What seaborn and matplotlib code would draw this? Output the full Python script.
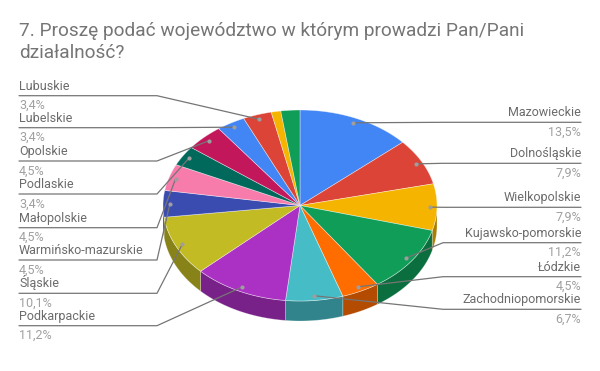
import numpy as np
import matplotlib
matplotlib.use("Agg")
import matplotlib.pyplot as plt
import seaborn as sns

# ============== DATA ==============
regions = ["Mazowieckie", "Dolnośląskie", "Wielkopolskie", "Kujawsko-pomorskie",
           "Łódzkie", "Zachodniopomorskie", "Podkarpackie", "Śląskie",
           "Warmińsko-mazurskie", "Małopolskie", "Podlaskie", "Opolskie",
           "Lubelskie", "Lubuskie", "Pomorskie", "Świętokrzyskie"]
counts = [12, 7, 7, 10, 4, 6, 10, 9, 4, 4, 3, 4, 3, 3, 1, 2]
pct_labels = ["13,5%", "7,9%", "7,9%", "11,2%", "4,5%", "6,7%", "11,2%", "10,1%",
              "4,5%", "4,5%", "3,4%", "4,5%", "3,4%", "3,4%", "1,1%", "2,2%"]
palette = ["#4285f4", "#db4437", "#f4b400", "#0f9d58", "#ff6d01", "#46bdc6",
           "#ab30c4", "#c3bb24", "#3b4cb0", "#f77cac", "#00695c", "#c2185b"]
title = "7. Proszę podać województwo w którym prowadzi Pan/Pani\ndziałalność?"

# ============== STYLE ==============
sns.set_theme(style="white")
plt.rcParams["font.family"] = ["Roboto", "DejaVu Sans"]

# pie geometry in pixel units
cx, cy, rx, ry, depth = 300, 205.5, 137, 95.5, 20

colors = [palette[i % len(palette)] for i in range(len(counts))]
frac = np.array(counts) / np.sum(counts)
edges = np.concatenate([[0], np.cumsum(frac)]) * 360


def darker(c, f=0.7):
    r, g, b = matplotlib.colors.to_rgb(c)
    return (r * f, g * f, b * f)


def arc(t1, t2, n=60, dy=0.0):
    t = np.radians(np.linspace(t1, t2, n))
    return cx + rx * np.sin(t), cy - ry * np.cos(t) + dy


fig = plt.figure(figsize=(6, 3.71), dpi=100)
ax = fig.add_axes([0, 0, 1, 1])
ax.set_xlim(0, 600)
ax.set_ylim(371, 0)
ax.axis("off")

# side walls (only front half is visible)
for i in range(len(counts)):
    a, b = max(edges[i], 90), min(edges[i + 1], 270)
    if a >= b:
        continue
    xt, yt = arc(a, b)
    xb, yb = arc(b, a, dy=depth)
    ax.fill(np.concatenate([xt, xb]), np.concatenate([yt, yb]),
            color=darker(colors[i]), ec=(1, 1, 1, 0.35), lw=0.5)

# top faces
for i in range(len(counts)):
    xa, ya = arc(edges[i], edges[i + 1])
    ax.fill(np.concatenate([[cx], xa]), np.concatenate([[cy], ya]),
            color=colors[i], ec=(1, 1, 1, 0.5), lw=0.5)

# label anchor dots
mid = np.radians((edges[:-1] + edges[1:]) / 2)
dot_x = cx + 0.95 * rx * np.sin(mid)
dot_y = cy - 0.95 * ry * np.cos(mid)
ax.scatter(dot_x[:14], dot_y[:14], s=9, color="#9e9e9e", zorder=5, lw=0)

name_col, pct_col, line_col = "#6b6b6b", "#a0a0a0", "#757575"

# right labels
right_idx = [0, 1, 2, 3, 4, 5]
right_line_y = [122.3, 163.3, 207.3, 242.7, 276.7, 309.3]
for i, ly in zip(right_idx, right_line_y):
    ax.plot([581, 443, dot_x[i]], [ly, ly, dot_y[i]], color=line_col, lw=0.9)
    ax.text(581, ly - 3, regions[i], ha="right", va="bottom", fontsize=9, color=name_col)
    ax.text(581, ly + 3.5, pct_labels[i], ha="right", va="top", fontsize=9, color=pct_col)

# left labels
left_idx = [13, 12, 11, 10, 9, 8, 7, 6]
left_line_y = [95.7, 127.7, 161, 194, 227.7, 260, 293.3, 325.7]
for i, ly in zip(left_idx, left_line_y):
    ax.plot([19, 157, dot_x[i]], [ly, ly, dot_y[i]], color=line_col, lw=0.9)
    ax.text(19, ly - 3, regions[i], ha="left", va="bottom", fontsize=9, color=name_col)
    ax.text(19, ly + 3.5, pct_labels[i], ha="left", va="top", fontsize=9, color=pct_col)

ax.text(19, 21.5, title, ha="left", va="top", fontsize=13.7, color="#757575",
        linespacing=1.33)

fig.savefig("out.png", dpi=100)
